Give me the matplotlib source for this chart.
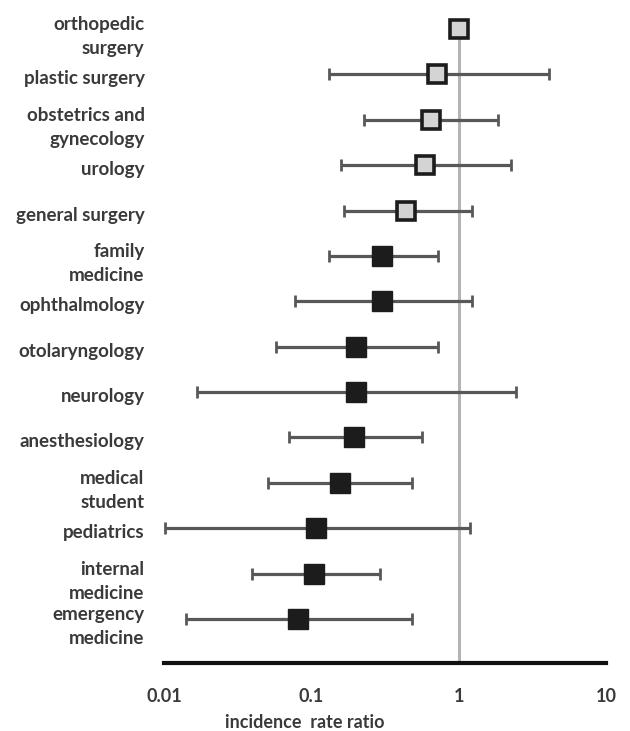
import matplotlib
matplotlib.use("Agg")
import matplotlib.pyplot as plt
import matplotlib.transforms as mtransforms
import numpy as np

categories = ["orthopedic\nsurgery", "plastic surgery", "obstetrics and\ngynecology", "urology",
              "general surgery", "family\nmedicine", "ophthalmology", "otolaryngology",
              "neurology", "anesthesiology", "medical\nstudent", "pediatrics",
              "internal\nmedicine", "emergency\nmedicine"]
irr = [1.0, 0.71, 0.645, 0.587, 0.437, 0.303, 0.303, 0.201, 0.201, 0.195, 0.157, 0.107, 0.104, 0.081]
ci_low = [np.nan, 0.131, 0.226, 0.16, 0.166, 0.131, 0.077, 0.0575, 0.0168, 0.071, 0.0506, 0.0101, 0.0394, 0.0141]
ci_high = [np.nan, 4.1, 1.85, 2.28, 1.24, 0.72, 1.24, 0.72, 2.45, 0.566, 0.48, 1.19, 0.293, 0.482]
highlight = [True, True, True, True, True, False, False, False, False, False, False, False, False, False]
xticks = [0.01, 0.1, 1, 10]
xtick_labels = ["0.01", "0.1", "1", "10"]

plt.rcParams['font.family'] = ['Lato', 'DejaVu Sans']
txt_color = '#3a3a3a'

fig = plt.figure(figsize=(6.3, 7.31), dpi=100)
ax = fig.add_axes([164/630, (731-663)/731, 442/630, 663/731])

y = np.arange(len(categories))
for i in range(len(categories)):
    fc = '#d4d4d4' if highlight[i] else '#1c1c1c'
    if not np.isnan(ci_low[i]):
        ax.errorbar(irr[i], y[i], xerr=[[irr[i]-ci_low[i]], [ci_high[i]-irr[i]]],
                    fmt='none', ecolor='#585858', elinewidth=2.3, capsize=4.5, capthick=2.0, zorder=2)
    ax.plot(irr[i], y[i], marker='s', markersize=13 if highlight[i] else 14,
            markerfacecolor=fc, markeredgecolor='#1c1c1c',
            markeredgewidth=2.6 if highlight[i] else 1, linestyle='none', zorder=4)

ax.axvline(1, ymin=0, ymax=(13.97-0)/(13.97+0.639), color='#b4b4b4', linewidth=2.2, zorder=1)

ax.set_xscale('log')
ax.set_xlim(0.01, 10)
ax.set_ylim(13.97, -0.639)
ax.set_xticks(xticks)
ax.set_xticklabels(xtick_labels)
ax.minorticks_off()
ax.tick_params(axis='x', length=0, pad=18, labelsize=13, labelcolor=txt_color)
ax.set_yticks(y)
ax.set_yticklabels(categories, fontweight='bold', fontsize=13.5, color=txt_color, linespacing=1.5)
ax.tick_params(axis='y', length=0, pad=14)
offset = mtransforms.ScaledTranslation(0, -3/100, fig.dpi_scale_trans)
for lab in ax.get_yticklabels():
    lab.set_transform(lab.get_transform() + offset)
for lab in ax.get_xticklabels():
    lab.set_fontweight('bold')
for s in ['left', 'top', 'right']:
    ax.spines[s].set_visible(False)
ax.spines['bottom'].set_linewidth(3)
ax.spines['bottom'].set_color('#111111')

fig.text(305/630, (731-723)/731, "incidence  rate ratio", ha='center', va='center',
         fontsize=13, fontweight='bold', color=txt_color)

fig.savefig("out.png", dpi=100)
